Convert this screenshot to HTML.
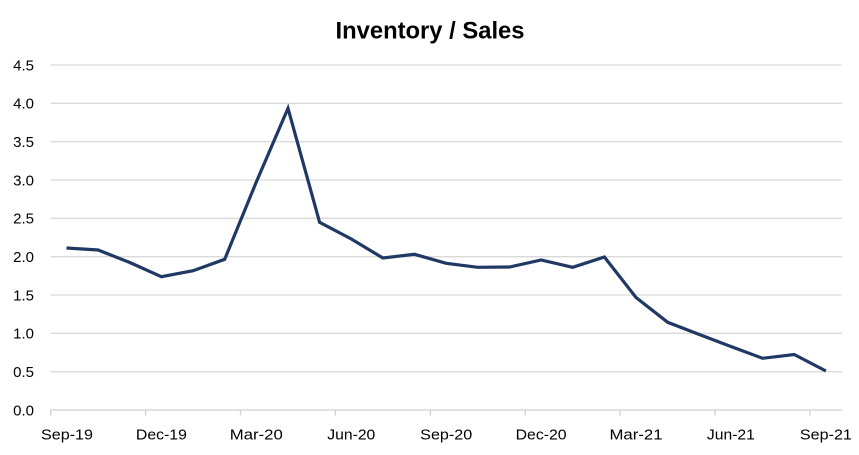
<!DOCTYPE html>
<html>
<head>
<meta charset="utf-8">
<style>
  html, body { margin: 0; padding: 0; background: #ffffff; }
  svg { display: block; }
  text { font-family: "Liberation Sans", Arial, sans-serif; fill: #000; }
</style>
</head>
<body>
<svg width="859" height="455" viewBox="0 0 859 455" xmlns="http://www.w3.org/2000/svg">
  <rect width="859" height="455" fill="#ffffff"/>
  <!-- Title -->
  <text x="430" y="38.5" font-size="24" font-weight="bold" text-anchor="middle" textLength="189" lengthAdjust="spacingAndGlyphs">Inventory / Sales</text>

  <!-- Gridlines -->
  <g stroke="#d9d9d9" stroke-width="1.3">
    <line x1="50.7" y1="65" x2="841.7" y2="65"/>
    <line x1="50.7" y1="103.3" x2="841.7" y2="103.3"/>
    <line x1="50.7" y1="141.7" x2="841.7" y2="141.7"/>
    <line x1="50.7" y1="180" x2="841.7" y2="180"/>
    <line x1="50.7" y1="218.3" x2="841.7" y2="218.3"/>
    <line x1="50.7" y1="256.7" x2="841.7" y2="256.7"/>
    <line x1="50.7" y1="295" x2="841.7" y2="295"/>
    <line x1="50.7" y1="333.3" x2="841.7" y2="333.3"/>
    <line x1="50.7" y1="371.7" x2="841.7" y2="371.7"/>
  </g>
  <!-- X axis -->
  <g stroke="#d0d0d0" stroke-width="1.3">
    <line x1="50.7" y1="410" x2="841.7" y2="410"/>
    <line x1="50.7" y1="410" x2="50.7" y2="415.5"/>
    <line x1="145.6" y1="410" x2="145.6" y2="415.5"/>
    <line x1="240.5" y1="410" x2="240.5" y2="415.5"/>
    <line x1="335.4" y1="410" x2="335.4" y2="415.5"/>
    <line x1="430.3" y1="410" x2="430.3" y2="415.5"/>
    <line x1="525.2" y1="410" x2="525.2" y2="415.5"/>
    <line x1="620.1" y1="410" x2="620.1" y2="415.5"/>
    <line x1="715" y1="410" x2="715" y2="415.5"/>
    <line x1="809.9" y1="410" x2="809.9" y2="415.5"/>
  </g>

  <!-- Y labels -->
  <g font-size="15" text-anchor="end">
    <text x="34" y="70.3">4.5</text>
    <text x="34" y="108.6">4.0</text>
    <text x="34" y="147">3.5</text>
    <text x="34" y="185.3">3.0</text>
    <text x="34" y="223.6">2.5</text>
    <text x="34" y="262">2.0</text>
    <text x="34" y="300.3">1.5</text>
    <text x="34" y="338.6">1.0</text>
    <text x="34" y="377">0.5</text>
    <text x="34" y="415.3">0.0</text>
  </g>

  <!-- X labels -->
  <g font-size="15" text-anchor="middle">
    <text x="67" y="439.5" textLength="52" lengthAdjust="spacingAndGlyphs">Sep-19</text>
    <text x="161.4" y="439.5" textLength="51" lengthAdjust="spacingAndGlyphs">Dec-19</text>
    <text x="256.3" y="439.5" textLength="53" lengthAdjust="spacingAndGlyphs">Mar-20</text>
    <text x="351.3" y="439.5" textLength="48" lengthAdjust="spacingAndGlyphs">Jun-20</text>
    <text x="446.2" y="439.5" textLength="52" lengthAdjust="spacingAndGlyphs">Sep-20</text>
    <text x="541.1" y="439.5" textLength="51" lengthAdjust="spacingAndGlyphs">Dec-20</text>
    <text x="636" y="439.5" textLength="53" lengthAdjust="spacingAndGlyphs">Mar-21</text>
    <text x="730.9" y="439.5" textLength="48" lengthAdjust="spacingAndGlyphs">Jun-21</text>
    <text x="825.9" y="439.5" textLength="52" lengthAdjust="spacingAndGlyphs">Sep-21</text>
  </g>

  <!-- Series -->
  <polyline fill="none" stroke="#1f3864" stroke-width="3.2" stroke-linejoin="miter" stroke-linecap="butt"
    points="66.5,248 98.1,250 129.8,262.5 161.4,276.7 193.1,270.7 224.7,259.3 256.3,182 288,108.3 319.6,222.3 351.3,239 382.9,258 414.5,254.3 446.2,263.3 477.8,267.3 509.5,267 541.1,260 572.7,267.3 604.4,257 636,297.5 667.7,322.3 699.3,334.5 730.9,346.5 762.6,358.3 794.2,354.5 825.9,371"/>
</svg>
</body>
</html>
